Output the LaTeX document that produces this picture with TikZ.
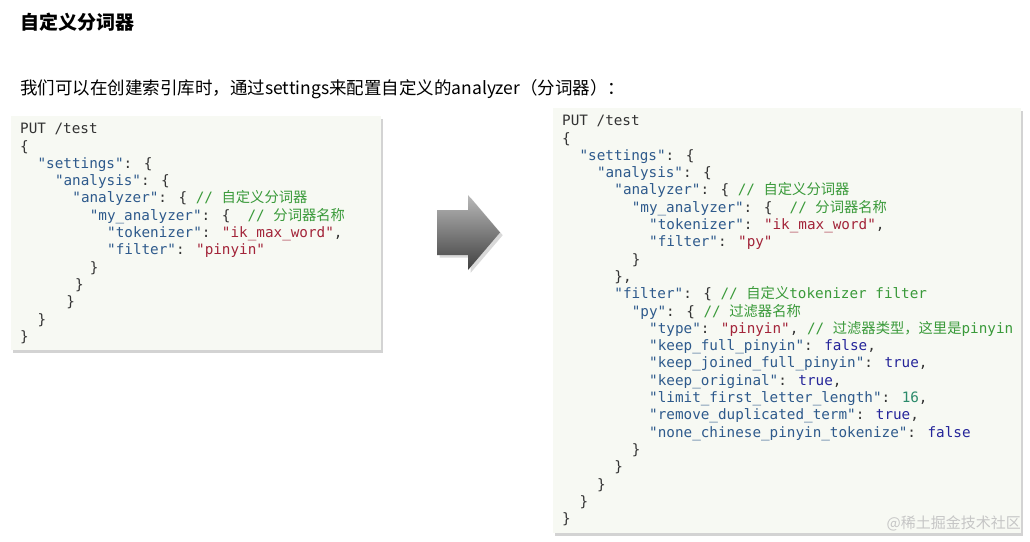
\documentclass[tikz,border=0pt]{standalone}
\usepackage{fontspec}
\setmainfont{Noto Sans CJK SC}
\newfontfamily\cjk{Noto Sans CJK SC}
\newfontfamily\code{DejaVu Sans Mono}
\usetikzlibrary{shadows}
\definecolor{kc}{HTML}{2E5A8C}
\definecolor{sc}{HTML}{A3253A}
\definecolor{cc}{HTML}{3A9A3A}
\definecolor{bc}{HTML}{25259A}
\definecolor{nc}{HTML}{2A8A6A}
\definecolor{pc}{HTML}{333333}
\definecolor{boxbg}{HTML}{F7F9F3}
\newcommand\Kk[1]{\textcolor{kc}{"#1"}}
\newcommand\Ss[1]{\textcolor{sc}{"#1"}}
\newcommand\Cc[1]{\textcolor{cc}{//~{\cjk #1}}}
\newcommand\Bb[1]{\textcolor{bc}{#1}}
\newcommand\Nn[1]{\textcolor{nc}{#1}}
\tikzset{codeline/.style={anchor=mid west,inner sep=0pt,font=\code\fontsize{14.3}{17}\selectfont,text=pc},
codebox/.style={fill=boxbg,draw=none,drop shadow={shadow xshift=1.5pt,shadow yshift=-2.5pt,opacity=0.35}}}
\begin{document}
\begin{tikzpicture}[x=1pt,y=-1pt]
\useasboundingbox (0,0) rectangle (1030,541);
\node[anchor=west,inner sep=0,font=\cjk\bfseries\fontsize{19}{22}\selectfont] (title) at (20,22) {自定义分词器};
\node[anchor=west,inner sep=0,font=\cjk\fontsize{17.5}{20}\selectfont] (sub) at (20,89) {我们可以在创建索引库时，通过settings来配置自定义的analyzer（分词器）：};
\node[codebox,minimum width=370pt,minimum height=234pt,anchor=north west,inner sep=0] (lb) at (11,116) {};
\node[codebox,minimum width=468pt,minimum height=425pt,anchor=north west,inner sep=0] (rb) at (553,108) {};
\def\x{20}\def\y{131}\def\d{17.3}
\foreach \c/\r/\t in {0/0/{PUT /test},0/1/{\{},2/2/{\Kk{settings}: \{},4/3/{\Kk{analysis}: \{},
6/4/{\Kk{analyzer}: \{ \Cc{自定义分词器}},8/5/{\Kk{my\_analyzer}: \{~~\Cc{分词器名称}},
10/6/{\Kk{tokenizer}: \Ss{ik\_max\_word},},10/7/{\Kk{filter}: \Ss{pinyin}},
8/8/{\}},6.3/9/{\}},5.3/10/{\}},2/11/{\}},0/12/{\}}}
 {\node[codeline] at ({\x+\c*8.7},{\y+\r*\d}) {\t};}
\def\x{562}\def\y{123}
\foreach \c/\r/\t in {0/0/{PUT /test},0/1/{\{},2/2/{\Kk{settings}: \{},4/3/{\Kk{analysis}: \{},
6/4/{\Kk{analyzer}: \{ \Cc{自定义分词器}},8/5/{\Kk{my\_analyzer}: \{~~\Cc{分词器名称}},
10/6/{\Kk{tokenizer}: \Ss{ik\_max\_word},},10/7/{\Kk{filter}: \Ss{py}},
8/8/{\}},6/9/{\},},6/10/{\Kk{filter}: \{ \textcolor{cc}{//~{\cjk 自定义}tokenizer filter}},
8/11/{\Kk{py}: \{ \Cc{过滤器名称}},
10/12/{\Kk{type}: \Ss{pinyin}, \textcolor{cc}{//~{\cjk 过滤器类型，这里是}pinyin}},
10/13/{\Kk{keep\_full\_pinyin}: \Bb{false},},
10/14/{\Kk{keep\_joined\_full\_pinyin}: \Bb{true},},
10/15/{\Kk{keep\_original}: \Bb{true},},
10/16/{\Kk{limit\_first\_letter\_length}: \Nn{16},},
10/17/{\Kk{remove\_duplicated\_term}: \Bb{true},},
10/18/{\Kk{none\_chinese\_pinyin\_tokenize}: \Bb{false}},
8/19/{\}},6/20/{\}},4/21/{\}},2/22/{\}},0/23/{\}}}
 {\node[codeline] at ({\x+\c*8.7},{\y+\r*\d}) {\t};}
\shade[top color=gray!55,bottom color=black!75,drop shadow={opacity=0.3}]
 (437,210) -- (468,210) -- (468,195) -- (500,232.5) -- (468,270) -- (468,255) -- (437,255) -- cycle;
\node[anchor=east,inner sep=0,font=\cjk\fontsize{15}{17}\selectfont,text=gray!45] (wm) at (1021,523) {@稀土掘金技术社区};
\end{tikzpicture}
\end{document}
